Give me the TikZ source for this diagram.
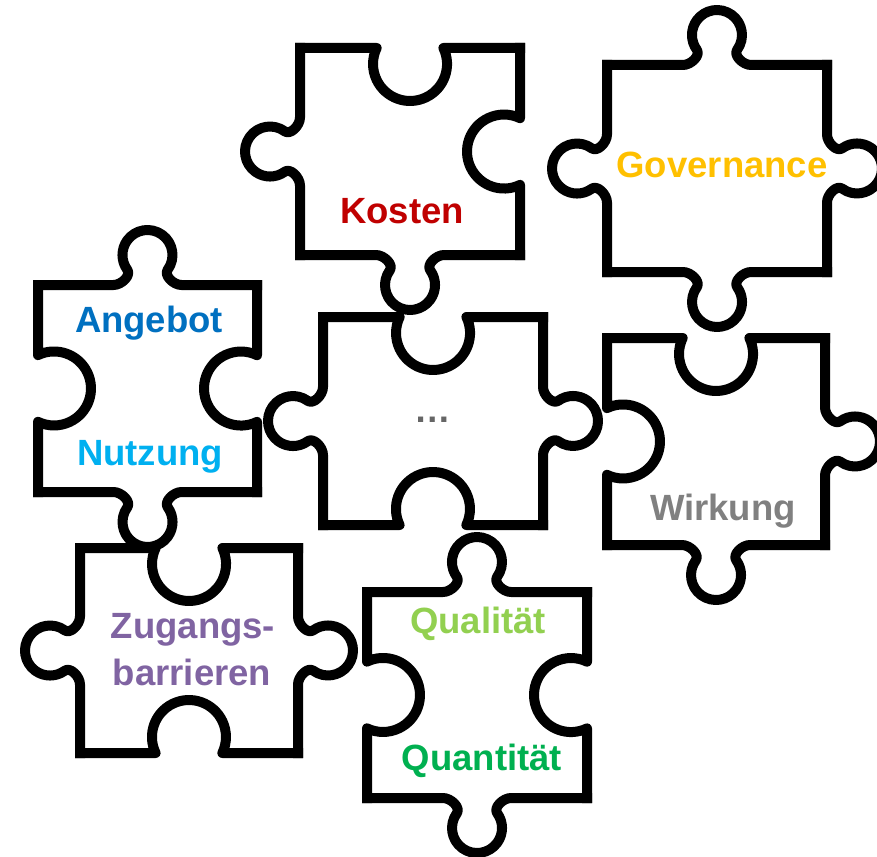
\documentclass[tikz,border=0pt]{standalone}
\usepackage{fontspec}
\setmainfont{Liberation Sans}
\definecolor{ckosten}{HTML}{C00000}
\definecolor{cgov}{HTML}{FFC000}
\definecolor{cang}{HTML}{0070C0}
\definecolor{cnutz}{HTML}{00B0F0}
\definecolor{cgray}{HTML}{808080}
\definecolor{cdots}{HTML}{666666}
\definecolor{czug}{HTML}{8064A2}
\definecolor{cqual}{HTML}{92D050}
\definecolor{cquan}{HTML}{00B050}
% knob side: x y rotation length
\newcommand\pzK[4]{%
  \draw[pz,shift={(#1,#2)},rotate=#3] (0,0) -- ({#4/2-34},0)
    .. controls ({#4/2-26},0) and ({#4/2-16.1},-9.6) .. ({#4/2-20.2},-15.3)
    arc[start angle=144,end angle=396,radius=25]
    .. controls ({#4/2+16.1},-9.6) and ({#4/2+26},0) .. ({#4/2+34},0) -- (#4,0);}
% hole side
\newcommand\pzH[4]{%
  \draw[pz,shift={(#1,#2)},rotate=#3] (0,0) -- ({#4/2-33.4},0)
    arc[start angle=205.6,end angle=-25.6,radius=37] -- (#4,0);}
% piece: x1 y1 x2 y2 (px, y down) top right bottom left
\newcommand\pzpiece[8]{%
  \pgfmathsetmacro\pzW{#3-#1}\pgfmathsetmacro\pzHt{#4-#2}%
  \csname pz#7\endcsname{#1}{-#4}{0}{\pzW}%
  \csname pz#6\endcsname{#3}{-#4}{90}{\pzHt}%
  \csname pz#5\endcsname{#3}{-#2}{180}{\pzW}%
  \csname pz#8\endcsname{#1}{-#2}{270}{\pzHt}%
}
\begin{document}
\begin{tikzpicture}[x=1pt,y=1pt,
  pz/.style={line width=10pt,line cap=rect,line join=round,black},
  lbl/.style={inner sep=0pt,anchor=base,font=\fontsize{36.5}{44}\selectfont\bfseries}]
\useasboundingbox (0,-856) rectangle (877,0);
\clip (0,-856) rectangle (877,0);
\fill[white] (0,-856) rectangle (877,0);
% pieces
\pzpiece{300}{48}{520}{255}{H}{H}{K}{K}   % Kosten
\pzpiece{607}{65}{827}{272}{K}{K}{K}{K}   % Governance
\pzpiece{38}{285}{257}{492}{K}{H}{K}{H}   % Angebot / Nutzung
\pzpiece{323}{317}{543}{525}{H}{K}{H}{K}  % dots
\pzpiece{607}{338}{825}{545}{H}{K}{K}{H}  % Wirkung
\pzpiece{80}{548}{298}{753}{H}{K}{H}{K}   % Zugangsbarrieren
\pzpiece{367}{592}{587}{798}{K}{H}{K}{H}  % Qualitaet / Quantitaet
% labels
\node[lbl,text=ckosten] (kosten) at (402,-223) {Kosten};
\node[lbl,text=cgov] (gov) at (722,-177) {Governance};
\node[lbl,text=cang] (angebot) at (149,-332) {Angebot};
\node[lbl,text=cnutz] (nutzung) at (150,-465) {Nutzung};
\node[lbl,text=cdots] (dots) at (433,-422) {…};
\node[lbl,text=cgray] (wirkung) at (723,-520) {Wirkung};
\node[lbl,text=czug] (zug1) at (193,-638) {Zugangs-};
\node[lbl,text=czug] (zug2) at (192,-685) {barrieren};
\node[lbl,text=cqual] (qual) at (478,-633) {Qualität};
\node[lbl,text=cquan] (quan) at (482,-770) {Quantität};
\end{tikzpicture}
\end{document}
